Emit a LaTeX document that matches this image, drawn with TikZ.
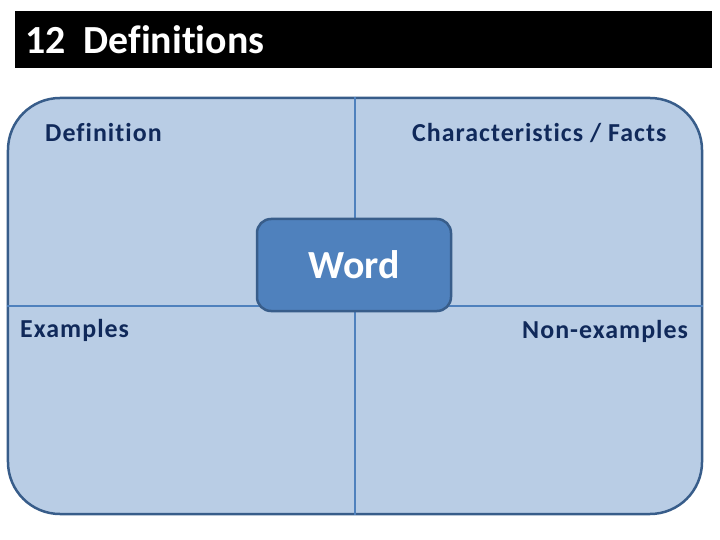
\documentclass[tikz,border=0pt]{standalone}
\usepackage{fontspec}
\setmainfont[Ligatures=NoCommon]{Carlito}
\newfontfamily\labelfont[Ligatures=NoCommon,LetterSpace=4]{Carlito}
\definecolor{boxfill}{HTML}{B9CDE5}
\definecolor{boxborder}{HTML}{385D8A}
\definecolor{wordfill}{HTML}{4F81BD}
\definecolor{labeltext}{HTML}{10295A}
\begin{document}
\begin{tikzpicture}
[x=1bp,y=-1bp,
  titledecorate/.style={fill=black,inner sep=0pt,minimum width=697bp,minimum height=57bp},%
  framedecorate/.style={draw=boxborder,fill=boxfill,line width=2.5bp,rounded corners=52bp,
    minimum width=694bp,minimum height=416bp,inner sep=0pt},%
  worddecorate/.style={draw=boxborder,fill=wordfill,line width=2.5bp,rounded corners=14bp,
    minimum width=194bp,minimum height=92bp,inner sep=0pt,text=white,
    font=\bfseries\fontsize{40}{42}\selectfont},%
  labeldecorate/.style={anchor=west,inner sep=0pt,text=labeltext,
    font=\labelfont\bfseries\fontsize{26}{28}\selectfont},%
  linedecorate/.style={-,draw=wordfill,line width=2bp}]
\useasboundingbox (0,0) rectangle (720,540);
% title bar
\node (title) at (363.5,39.5) [titledecorate] {};
\node (titletext) [anchor=west,inner sep=0pt,text=white,
  font=\bfseries\fontsize{40}{42}\selectfont] at (25,40) {12\ \ Definitions};
% frame and quadrants
\node (frame) at (355,306) [framedecorate] {};
\path
(frame.north) edge[linedecorate] (frame.south)
(frame.west) edge[linedecorate] (frame.east);
\node (word) at (354,265) [worddecorate] {Word};
% labels
\node (definition) at (45,133) [labeldecorate] {Definition};
\node (facts) at (412,133) [labeldecorate] {Characteristics / Facts};
\node (examples) at (20,330) [labeldecorate] {Examples};
\node (nonexamples) at (522,331) [labeldecorate] {Non-examples};
\end{tikzpicture}
\end{document}
